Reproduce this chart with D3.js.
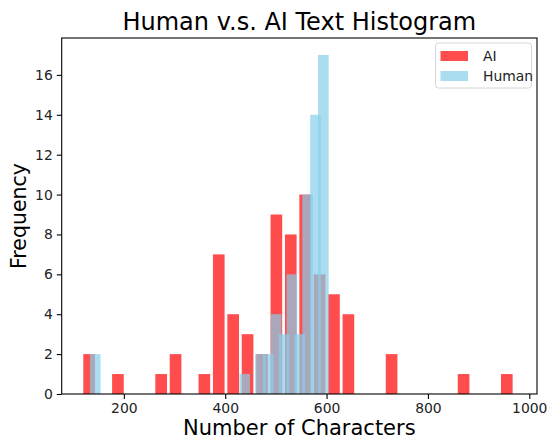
<!DOCTYPE html>
<html>
<head>
<meta charset="utf-8">
<script src="https://cdn.jsdelivr.net/npm/d3@7"></script>
<style>
  body { margin: 0; background: white; }
  svg text { font-family: "DejaVu Sans", sans-serif; fill: #000; }
</style>
</head>
<body>
<svg id="hist"></svg>
<script>
// counts per bin, 30 bins each
const aiCounts = [2,0,1,0,0,1,2,0,1,7, 4,3,2,9,8,10,6,5,4,0, 0,2,0,0,0,0,1,0,0,1]
const humanCounts = [2,0,0,0,0,0,0,0,0,0, 0,0,0,0,0,0,0,0,0,1, 0,2,2,4,3,6,3,10,14,17]
// number of characters covered by each series' bins
const aiRange = [120, 972.6]
const humanRange = [133, 598.7]
const xTicks = [200, 400, 600, 800, 1000]
const yTicks = [0, 2, 4, 6, 8, 10, 12, 14, 16]

const width = 547, height = 439
const margin = {top: 38, right: 10, bottom: 45, left: 61.7}

const svg = d3.select("#hist").attr("width", width).attr("height", height)

// turn counts + range into bins like np.histogram does
const makeBins = (counts, range) => {
    const step = (range[1] - range[0]) / counts.length
    return counts.map((c, i) => ({x0: range[0] + i*step, count: c}))
}
const aiBins = makeBins(aiCounts, aiRange)
const humanBins = makeBins(humanCounts, humanRange)

const lo = d3.min([aiRange[0], humanRange[0]]), hi = d3.max([aiRange[1], humanRange[1]])
const pad = (hi - lo) * 0.05
const x = d3.scaleLinear().domain([lo - pad, hi + pad]).range([margin.left, width - margin.right])
const yMax = d3.max(aiCounts.concat(humanCounts)) * 1.05
const y = d3.scaleLinear().domain([0, yMax]).range([height - margin.bottom, margin.top])

const drawBars = (bins, cls, color, barWidth) => {
    svg.append("g").selectAll(`rect.${cls}`)
        .data(bins.filter(d => d.count > 0))
        .join("rect")
        .attr("class", cls)
        .attr("x", d => x(d.x0))
        .attr("width", d => x(d.x0 + barWidth) - x(d.x0))
        .attr("y", d => y(d.count))
        .attr("height", d => y(0) - y(d.count))
        .style("fill", color)
        .style("opacity", 0.7)
}
drawBars(aiBins, "ai", "red", 23)
drawBars(humanBins, "human", "skyblue", 21)

// axes
const xAxis = svg.append("g")
    .attr("transform", `translate(0, ${y(0)})`)
    .call(d3.axisBottom(x).tickValues(xTicks).tickSize(4.9).tickPadding(4).tickFormat(d3.format("d")))
const yAxis = svg.append("g")
    .attr("transform", `translate(${margin.left}, 0)`)
    .call(d3.axisLeft(y).tickValues(yTicks).tickSize(4.9).tickPadding(4).tickFormat(d3.format("d")))

svg.selectAll(".tick text").style("font-size", "13.9px").style("fill", "#222")
svg.selectAll(".tick line").style("stroke", "#000").style("stroke-width", 1.1)
svg.selectAll(".domain").remove()

// frame
svg.append("rect")
    .attr("x", margin.left).attr("y", margin.top)
    .attr("width", x.range()[1] - margin.left)
    .attr("height", y(0) - margin.top)
    .style("fill", "none").style("stroke", "#000").style("stroke-width", 1.1)

svg.append("text").text("Human v.s. AI Text Histogram")
    .attr("x", (margin.left + x.range()[1]) / 2)
    .attr("y", margin.top - 8.3)
    .attr("text-anchor", "middle")
    .style("font-size", "24px")

svg.append("text").text("Number of Characters")
    .attr("x", (margin.left + x.range()[1]) / 2)
    .attr("y", 435)
    .attr("text-anchor", "middle")
    .style("font-size", "21px")

svg.append("text").text("Frequency")
    .attr("transform", `translate(26, ${(margin.top + y(0)) / 2}) rotate(-90)`)
    .attr("text-anchor", "middle")
    .style("font-size", "20.5px")

// legend
const legendItems = [{label: "AI", color: "red"}, {label: "Human", color: "skyblue"}]
const legend = svg.append("g").attr("transform", "translate(435.5, 43)")
legend.append("rect")
    .attr("width", 96).attr("height", 45).attr("rx", 3)
    .style("fill", "white").style("fill-opacity", 0.8)
    .style("stroke", "#d6d6d6").style("stroke-width", 1)
const li = legend.selectAll("g.item").data(legendItems).join("g")
    .attr("class", "item")
    .attr("transform", (d, i) => `translate(5, ${8 + i*20})`)
li.append("rect").attr("width", 27.5).attr("height", 10)
    .style("fill", d => d.color).style("opacity", 0.7)
li.append("text").text(d => d.label)
    .attr("x", 42.5).attr("y", 10)
    .style("font-size", "13.9px").style("fill", "#222")
</script>
</body>
</html>
